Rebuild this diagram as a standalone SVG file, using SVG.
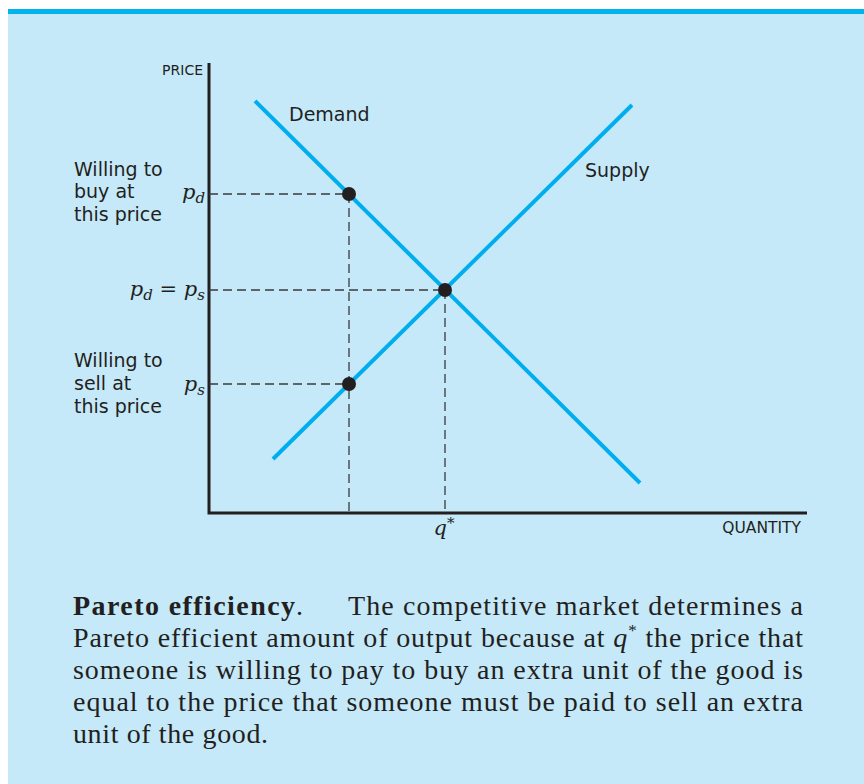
<svg xmlns="http://www.w3.org/2000/svg" width="864" height="784" viewBox="0 0 864 784">
<style>
.lbl{font-family:"DejaVu Sans",sans-serif;font-size:19px;fill:#231f20}
.sm{font-family:"DejaVu Sans",sans-serif;font-size:14px;fill:#231f20}
.math{font-family:"DejaVu Serif","Liberation Serif",serif;font-style:italic;font-size:21px;fill:#231f20}
.sub{font-size:15px}
.cap{font-family:"Liberation Serif","Times New Roman",serif;font-size:28px;fill:#231f20}
.curve{stroke:#00aeef;stroke-width:4;fill:none}
.dash{stroke:#3a3a3a;stroke-width:1.3;stroke-dasharray:9 5;fill:none}
.axis{stroke:#231f20;stroke-width:3;fill:none}
.dot{fill:#231f20}
</style>
<rect x="0" y="0" width="864" height="784" fill="#ffffff"/>
<rect x="8" y="14" width="856" height="770" fill="#c5e9f9"/>
<rect x="8" y="9" width="856" height="5" fill="#00b3ee"/>

<g id="axes">
<path class="axis" d="M209,63 V513 H807"/>
<text class="sm" x="203" y="75" text-anchor="end">PRICE</text>
<text class="sm" x="801" y="533" text-anchor="end" style="font-size:15.5px">QUANTITY</text>
</g>

<g id="connectors">
<path class="dash" d="M209,194 H349 M209,290 H445 M209,384 H349"/>
<path class="dash" d="M349,194 V513 M445,290 V513"/>
</g>

<g id="demand">
<path class="curve" d="M255,101 L640,483"/>
<text class="lbl" x="289" y="121">Demand</text>
</g>

<g id="supply">
<path class="curve" d="M273,459 L632,105"/>
<text class="lbl" x="585" y="177">Supply</text>
</g>

<g id="point-pd">
<circle class="dot" cx="349" cy="194" r="7"/>
<text class="math" x="205" y="199" text-anchor="end">p<tspan class="sub" dy="4">d</tspan></text>
</g>

<g id="point-eq">
<circle class="dot" cx="445" cy="290" r="7"/>
<text class="math" x="205" y="296" text-anchor="end">p<tspan class="sub" dy="4">d</tspan><tspan dy="-4" style="font-style:normal"> = </tspan>p<tspan class="sub" dy="4">s</tspan></text>
<text class="math" x="444" y="535" text-anchor="middle">q<tspan class="sub" dy="-7" style="font-style:normal">*</tspan></text>
</g>

<g id="point-ps">
<circle class="dot" cx="349" cy="384" r="7"/>
<text class="math" x="205" y="391" text-anchor="end">p<tspan class="sub" dy="4">s</tspan></text>
</g>

<g id="buy-label">
<text class="lbl" x="74" y="176">Willing to</text>
<text class="lbl" x="74" y="198">buy at</text>
<text class="lbl" x="74" y="221">this price</text>
</g>

<g id="sell-label">
<text class="lbl" x="74" y="367">Willing to</text>
<text class="lbl" x="74" y="390">sell at</text>
<text class="lbl" x="74" y="413">this price</text>
</g>

<g id="caption">
<text class="cap" x="73" y="615" style="font-weight:bold" textLength="222">Pareto efficiency</text>
<text class="cap" x="296" y="615">.</text>
<text class="cap" x="348" y="615" textLength="455">The competitive market determines a</text>
<text class="cap" x="73" y="647" textLength="730">Pareto efficient amount of output because at <tspan style="font-style:italic">q</tspan><tspan style="font-size:17px" dy="-11">*</tspan><tspan dy="11"> the price that</tspan></text>
<text class="cap" x="73" y="679" textLength="730">someone is willing to pay to buy an extra unit of the good is</text>
<text class="cap" x="73" y="711" textLength="730">equal to the price that someone must be paid to sell an extra</text>
<text class="cap" x="73" y="743" textLength="195">unit of the good.</text>
</g>
</svg>
